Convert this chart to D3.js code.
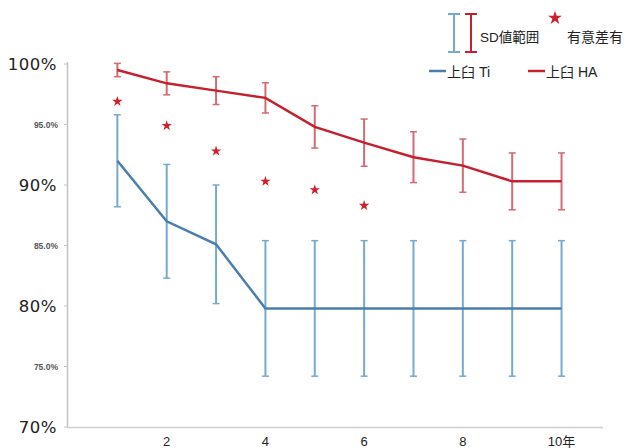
<!DOCTYPE html>
<html>
<head>
<meta charset="utf-8">
<script src="https://cdn.jsdelivr.net/npm/d3@7"></script>
<style>
  body { margin: 0; background: #fff; }
  svg { display: block; font-family: "Liberation Sans", "Noto Sans CJK JP", sans-serif; }
</style>
</head>
<body>
<div id="chart"></div>
<script>
// data
var years = [1, 2, 3, 4, 5, 6, 7, 8, 9, 10]
var haMean = [99.5, 98.4, 97.8, 97.2, 94.8, 93.5, 92.3, 91.6, 90.3, 90.3]
var haSD = [0.55, 0.95, 1.15, 1.25, 1.75, 1.95, 2.1, 2.2, 2.35, 2.35]
var tiMean = [92.0, 87.0, 85.1, 79.8, 79.8, 79.8, 79.8, 79.8, 79.8, 79.8]
var tiSD = [3.8, 4.7, 4.9, 5.6, 5.6, 5.6, 5.6, 5.6, 5.6, 5.6]
var starYears = [1, 2, 3, 4, 5, 6]
var starValues = [96.9, 94.9, 92.8, 90.3, 89.6, 88.3]
var bigTicks = [100, 90, 80, 70]
var smallTicks = [95, 85, 75]
var xTicks = [2, 4, 6, 8, 10]

var w = 630, h = 448
var red = "#c5202e", redLight = "#d36a74"
var blue = "#4b7ead", blueLight = "#77a9cf"

var svg = d3.select("#chart").append("svg")
  .attr("width", w).attr("height", h)

var x = d3.scaleLinear().domain([0, 10.84]).range([68, 603])
var y = d3.scaleLinear().domain([70, 100]).range([427, 64])

// axes lines
svg.append("line")
  .attr("x1", 67.5).attr("x2", 67.5).attr("y1", 62).attr("y2", 427.5)
  .attr("stroke", "#c4c4c4").attr("stroke-width", 1.5)
svg.append("line")
  .attr("x1", 67).attr("x2", 603).attr("y1", 427.5).attr("y2", 427.5)
  .attr("stroke", "#cfcfcf").attr("stroke-width", 1.5)

// y labels, big ones and small ones
svg.selectAll(".big").data(bigTicks).enter().append("text")
  .attr("class", "big")
  .attr("x", 57).attr("y", function(d){ return y(d) + 6 })
  .attr("text-anchor", "end")
  .attr("font-size", 16.5).attr("fill", "#222")
  .attr("font-family", "'DejaVu Sans', sans-serif")
  .style("letter-spacing", "0.5px")
  .text(function(d){ return d + "%" })

svg.selectAll(".small").data(smallTicks).enter().append("text")
  .attr("class", "small")
  .attr("x", 58).attr("y", function(d){ return y(d) + 3 })
  .attr("text-anchor", "end")
  .attr("font-size", 8.5).attr("font-weight", "bold").attr("fill", "#555")
  .text(function(d){ return d.toFixed(1) + "%" })

svg.selectAll(".ytick").data(bigTicks.concat(smallTicks)).enter().append("line")
  .attr("x1", 64).attr("x2", 67)
  .attr("y1", function(d){ return y(d) }).attr("y2", function(d){ return y(d) })
  .attr("stroke", "#c4c4c4")

svg.selectAll(".xlab").data(xTicks).enter().append("text")
  .attr("x", function(d){ return x(d) }).attr("y", 445.5)
  .attr("text-anchor", "middle")
  .attr("font-size", 13).attr("fill", "#222")
  .text(function(d){ return d == 10 ? "10年" : d })

// error bars
var drawBars = function(mean, sd, color) {
  var g = svg.append("g")
  years.forEach(function(yr, i) {
    var cx = x(yr), top = y(mean[i] + sd[i]), bot = y(mean[i] - sd[i])
    g.append("line").attr("x1", cx).attr("x2", cx).attr("y1", top).attr("y2", bot)
      .attr("stroke", color).attr("stroke-width", 2)
    g.append("line").attr("x1", cx - 3.5).attr("x2", cx + 3.5).attr("y1", top).attr("y2", top)
      .attr("stroke", color).attr("stroke-width", 1.5)
    g.append("line").attr("x1", cx - 3.5).attr("x2", cx + 3.5).attr("y1", bot).attr("y2", bot)
      .attr("stroke", color).attr("stroke-width", 1.5)
  })
}
drawBars(tiMean, tiSD, blueLight)
drawBars(haMean, haSD, redLight)

var line = d3.line().x(function(d){ return x(d[0]) }).y(function(d){ return y(d[1]) })
svg.append("path").datum(d3.zip(years, tiMean)).attr("d", line)
  .attr("fill", "none").attr("stroke", blue).attr("stroke-width", 2.5)
svg.append("path").datum(d3.zip(years, haMean)).attr("d", line)
  .attr("fill", "none").attr("stroke", red).attr("stroke-width", 2.5)

// significance stars
var star = d3.symbol().type(d3.symbolStar).size(34)
svg.selectAll(".star").data(d3.zip(starYears, starValues)).enter().append("path")
  .attr("d", star)
  .attr("transform", function(d){ return "translate(" + x(d[0]) + "," + y(d[1]) + ")" })
  .attr("fill", "#d0202c")

// legend
var lg = svg.append("g")
var ibar = function(cx, color) {
  lg.append("line").attr("x1", cx).attr("x2", cx).attr("y1", 14).attr("y2", 52)
    .attr("stroke", color).attr("stroke-width", 2)
  lg.append("line").attr("x1", cx - 6).attr("x2", cx + 6).attr("y1", 14).attr("y2", 14)
    .attr("stroke", color).attr("stroke-width", 2)
  lg.append("line").attr("x1", cx - 6).attr("x2", cx + 6).attr("y1", 52).attr("y2", 52)
    .attr("stroke", color).attr("stroke-width", 2)
}
ibar(454, blueLight)
ibar(471, red)
lg.append("text").attr("x", 480).attr("y", 42).attr("font-size", 13.5).attr("fill", "#222")
  .text("SD値範囲")
lg.append("path").attr("d", d3.symbol().type(d3.symbolStar).size(60))
  .attr("transform", "translate(555,18)").attr("fill", "#d0202c")
lg.append("text").attr("x", 567).attr("y", 42).attr("font-size", 14).attr("fill", "#222")
  .text("有意差有")

lg.append("line").attr("x1", 429).attr("x2", 446).attr("y1", 71).attr("y2", 71)
  .attr("stroke", blue).attr("stroke-width", 2.5)
lg.append("text").attr("x", 447).attr("y", 77).attr("font-size", 14).attr("fill", "#222")
  .text("上臼 Ti")
lg.append("line").attr("x1", 528).attr("x2", 545).attr("y1", 71).attr("y2", 71)
  .attr("stroke", red).attr("stroke-width", 2.5)
lg.append("text").attr("x", 546).attr("y", 77).attr("font-size", 14).attr("fill", "#222")
  .text("上臼 HA")
</script>
</body>
</html>
